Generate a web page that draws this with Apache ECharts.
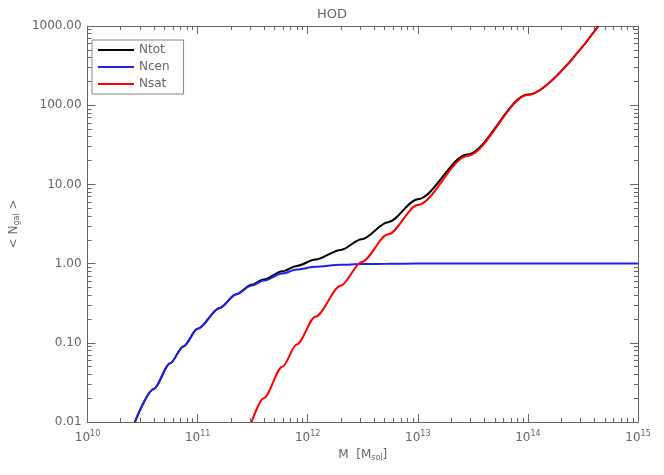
<!DOCTYPE html>
<html><head><meta charset="utf-8">
<script src="https://cdn.jsdelivr.net/npm/echarts@6/dist/echarts.min.js"></script>
<style>html,body{margin:0;padding:0;background:#fff}#c{width:664px;height:475px}</style>
</head><body><div id="c"></div>
<script>
const logM_tot = [10.43,10.6,10.75,10.87,11.0,11.2,11.35,11.49,11.6,11.77,11.9,12.07,12.3,12.49,12.73,13.0,13.45,14.0,14.64];
const Ntot = [0.01,0.026,0.055,0.09,0.15,0.275,0.41,0.54,0.63,0.80,0.935,1.124,1.49,2.035,3.335,6.5,23.9,136,1001];
const logM_cen = [10.43,10.6,10.75,10.87,11.0,11.2,11.35,11.49,11.6,11.77,11.9,12.07,12.3,12.49,12.73,13.0,13.45,14.0,15.0];
const Ncen = [0.01,0.026,0.055,0.09,0.15,0.275,0.41,0.53,0.61,0.75,0.84,0.91,0.965,0.985,0.995,1,1,1,1];
const logM_sat = [11.49,11.6,11.77,11.9,12.07,12.3,12.49,12.73,13.0,13.45,14.0,14.64];
const Nsat = [0.01,0.02,0.05,0.095,0.214,0.525,1.05,2.34,5.5,22.9,135,1000];
const yTickLabels = ['0.01','0.10','1.00','10.00','100.00','1000.00'];

const pairs = (lm, n) => lm.map((v, i) => [Math.pow(10, v), n[i]]);
const gray = '#666';
const font = 'DejaVu Sans';
function xLabel(v) {
  const e = Math.round(Math.log10(v));
  return '{b|10}{s|' + e + '}';
}
const common = {
  axisLine: {lineStyle: {color: gray}},
  axisTick: {inside: true, length: 8, lineStyle: {color: gray}},
  minorTick: {show: true, splitNumber: 9, length: 4, lineStyle: {color: gray}},
  splitLine: {show: false}
};
const chart = echarts.init(document.getElementById('c'));
chart.setOption({
  animation: false,
  title: {text: 'HOD', left: 'center', top: 3, textStyle: {color: gray, fontSize: 13, fontWeight: 'normal', fontFamily: font}},
  grid: {left: 80, right: 26, top: 26, bottom: 53},
  legend: {
    orient: 'vertical', left: 92, top: 40, itemWidth: 36, itemHeight: 2, itemGap: 5,
    borderColor: '#888', borderWidth: 1, padding: [4, 14, 4, 6],
    textStyle: {color: gray, fontFamily: font, fontSize: 12},
    icon: 'rect',
    data: ['Ntot', 'Ncen', 'Nsat']
  },
  xAxis: [
    Object.assign({type: 'log', min: 1e10, max: 1e15, logBase: 10, position: 'bottom',
      name: '{n|M  [M}{sub|sol}{n|]}', nameLocation: 'middle', nameGap: 24,
      nameTextStyle: {rich: {n: {color: gray, fontFamily: font, fontSize: 12}, sub: {color: gray, fontFamily: font, fontSize: 8, verticalAlign: 'bottom', padding: [6, 0, 0, 0]}}},
      axisLabel: {formatter: xLabel, margin: 8, rich: {b: {color: gray, fontFamily: font, fontSize: 12}, s: {color: gray, fontFamily: font, fontSize: 8, verticalAlign: 'top', padding: [0, 0, 8, 0]}}}
    }, common),
    Object.assign({type: 'log', min: 1e10, max: 1e15, logBase: 10, position: 'top', axisLabel: {show: false}}, common)
  ],
  yAxis: [
    Object.assign({type: 'log', min: 0.01, max: 1000, logBase: 10, position: 'left',
      name: '< N{sub|gal} >',
      nameLocation: 'middle', nameGap: 66, nameRotate: 90,
      nameTextStyle: {color: gray, fontFamily: font, fontSize: 12, rich: {sub: {color: gray, fontFamily: font, fontSize: 8, padding: [6, 0, 0, 0]}}},
      axisLabel: {color: gray, fontFamily: font, fontSize: 12, margin: 6,
        formatter: v => yTickLabels[Math.round(Math.log10(v)) + 2]}
    }, common),
    Object.assign({type: 'log', min: 0.01, max: 1000, logBase: 10, position: 'right', axisLabel: {show: false}}, common)
  ],
  series: [
    {name: 'Ntot', type: 'line', smooth: 0.3, smoothMonotone: 'x', showSymbol: false, color: '#000', lineStyle: {width: 2, color: '#000'}, data: pairs(logM_tot, Ntot), z: 2},
    {name: 'Ncen', type: 'line', smooth: 0.3, smoothMonotone: 'x', showSymbol: false, color: '#2020ee', lineStyle: {width: 2, color: '#2020ee'}, data: pairs(logM_cen, Ncen), z: 3},
    {name: 'Nsat', type: 'line', smooth: 0.3, smoothMonotone: 'x', showSymbol: false, color: '#ff0000', lineStyle: {width: 2, color: '#ff0000'}, data: pairs(logM_sat, Nsat), z: 4}
  ]
});
</script></body></html>
